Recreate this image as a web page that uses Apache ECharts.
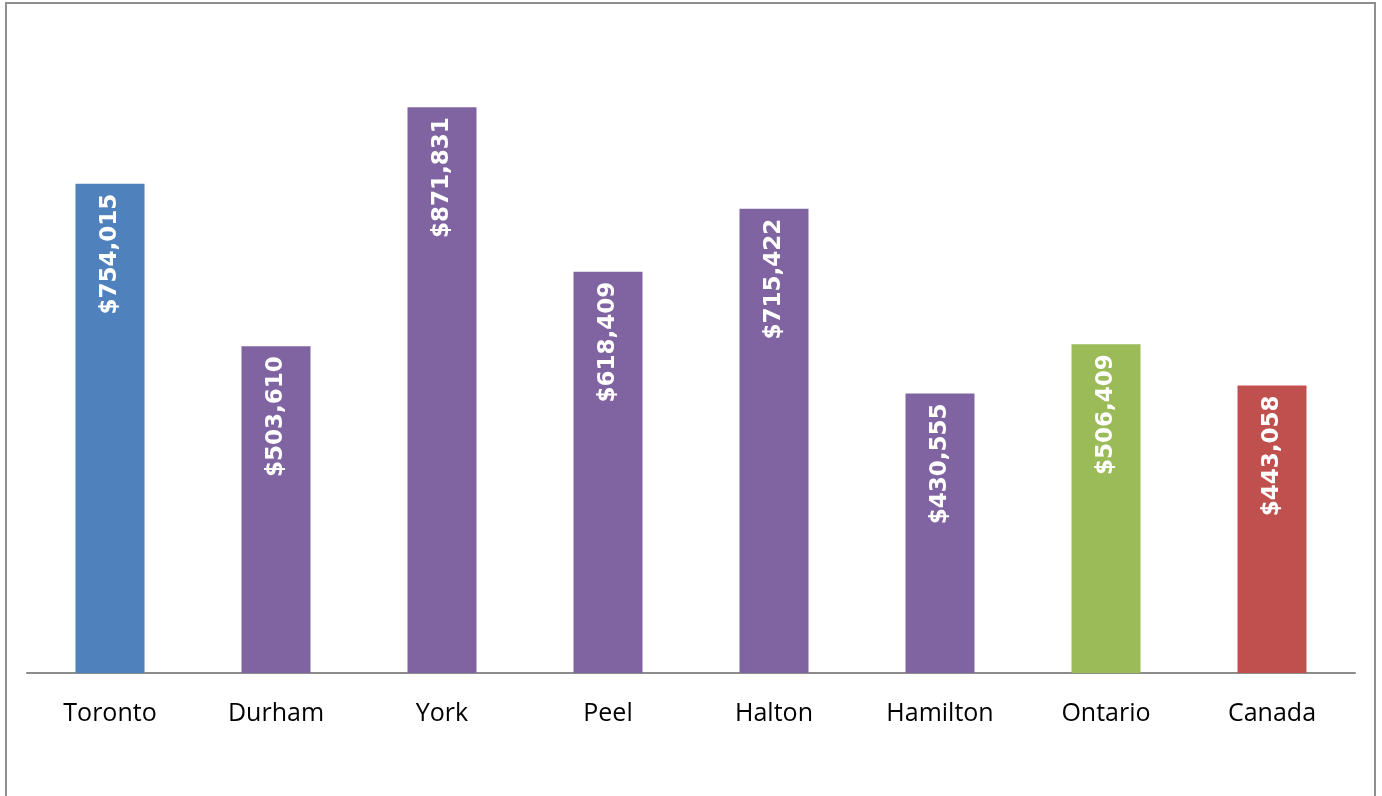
<!DOCTYPE html>
<html>
<head>
<meta charset="utf-8">
<script src="https://cdn.jsdelivr.net/npm/echarts@6/dist/echarts.min.js"></script>
<style>
html,body{margin:0;padding:0;background:#fff;}
#frame{position:absolute;left:5px;top:2px;width:1371px;height:830px;border:2px solid #8f8f8f;box-sizing:border-box;}
#chart{position:absolute;left:0;top:0;width:1382px;height:796px;}
</style>
</head>
<body>
<div id="frame"></div>
<div id="chart"></div>
<script>
const categories = ['Toronto','Durham','York','Peel','Halton','Hamilton','Ontario','Canada'];
const values = [754015, 503610, 871831, 618409, 715422, 430555, 506409, 443058];
const barColors = ['#4F81BD','#8064A2','#8064A2','#8064A2','#8064A2','#8064A2','#9BBB59','#C0504D'];

const chart = echarts.init(document.getElementById('chart'), null, {renderer:'canvas'});
chart.setOption({
  animation:false,
  grid:{left:27, right:27, top:24, bottom:123},
  xAxis:{
    type:'category',
    data:categories,
    axisLine:{lineStyle:{color:'#8c8c8c', width:2}},
    axisTick:{show:false},
    axisLabel:{color:'#000', fontSize:25, fontFamily:'Open Sans, Lato, sans-serif', margin:28}
  },
  yAxis:{type:'value', min:0, max:1000000, show:false, splitLine:{show:false}},
  series:[{
    type:'bar',
    barWidth:69,
    data:values.map((v,i)=>({value:v, itemStyle:{color:barColors[i]}})),
    label:{
      show:true,
      position:'insideTop',
      rotate:90,
      align:'right',
      verticalAlign:'middle',
      distance:10,
      color:'#fff',
      fontWeight:'bold',
      fontSize:23,
      fontFamily:'DejaVu Sans, sans-serif',
      formatter:p=>'$'+p.value.toLocaleString('en-US')
    }
  }]
});
</script>
</body>
</html>
